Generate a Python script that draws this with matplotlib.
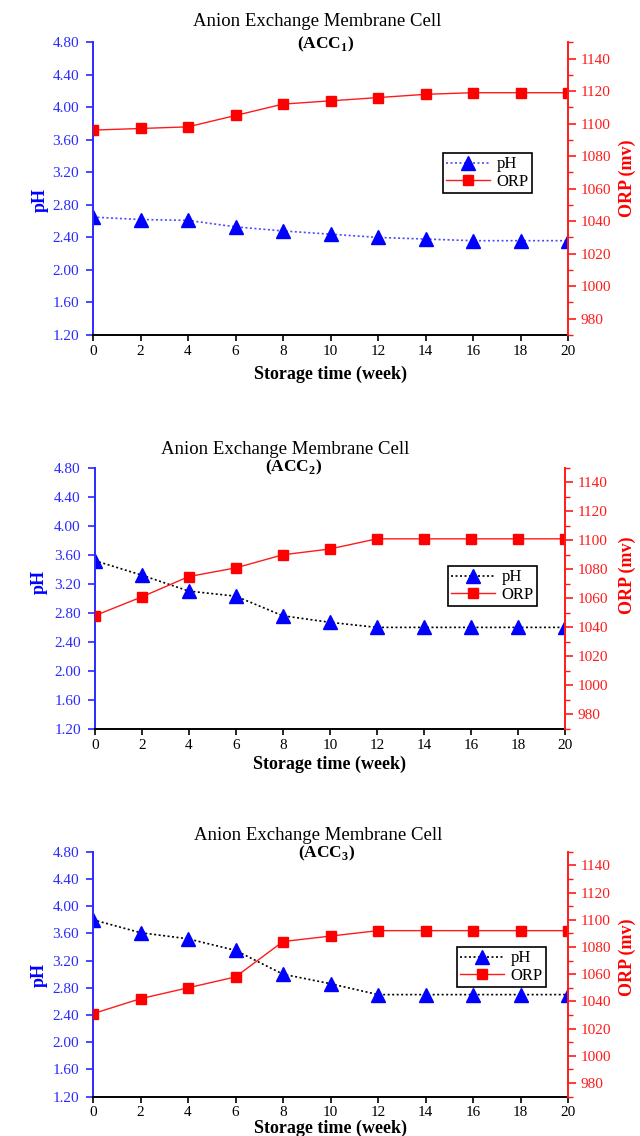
import matplotlib
matplotlib.use("Agg")
import matplotlib.pyplot as plt
from matplotlib.ticker import MultipleLocator, FormatStrFormatter

plt.rcParams['font.family'] = ['Liberation Serif', 'DejaVu Serif']
plt.rcParams['mathtext.fontset'] = 'custom'
plt.rcParams['mathtext.rm'] = 'Liberation Serif'
plt.rcParams['mathtext.bf'] = 'Liberation Serif:bold'

weeks = [0, 2, 4, 6, 8, 10, 12, 14, 16, 18, 20]

ph_acc1 = [2.65, 2.62, 2.61, 2.53, 2.48, 2.44, 2.40, 2.38, 2.36, 2.36, 2.36]
orp_acc1 = [1096, 1097, 1098, 1105, 1112, 1114, 1116, 1118, 1119, 1119, 1119]

ph_acc2 = [3.52, 3.32, 3.10, 3.03, 2.76, 2.67, 2.60, 2.60, 2.60, 2.60, 2.60]
orp_acc2 = [1048, 1061, 1075, 1081, 1090, 1094, 1101, 1101, 1101, 1101, 1101]

ph_acc3 = [3.80, 3.61, 3.52, 3.35, 3.00, 2.86, 2.70, 2.70, 2.70, 2.70, 2.70]
orp_acc3 = [1031, 1042, 1050, 1058, 1084, 1088, 1092, 1092, 1092, 1092, 1092]

title_text = "Anion Exchange Membrane Cell"
subtitles = [r"(ACC$_{\mathbf{1}}$)", r"(ACC$_{\mathbf{2}}$)", r"(ACC$_{\mathbf{3}}$)"]
xlabel_text = "Storage time (week)"
left_label = "pH"
right_label = "ORP (mv)"

W, H = 640, 1136
fig = plt.figure(figsize=(W / 100, H / 100), dpi=100)

BLUE = '#2a2aff'
RED = '#ff1a1a'

# pixel geometry: (left, right, top, bottom)
panels = [
    dict(box=(93, 568, 42.3, 335), ph=ph_acc1, orp=orp_acc1, phcolor='#4a4aff',
         title_xy=(317, 21), sub_xy=(326, 44), xlab_y=374, ylab=(40, 200), rlab=(627, 178),
         leg=(443, 153)),
    dict(box=(94.7, 565, 467.7, 729), ph=ph_acc2, orp=orp_acc2, phcolor='black',
         title_xy=(285, 449), sub_xy=(294, 467), xlab_y=764, ylab=(39, 582), rlab=(627, 575),
         leg=(448, 566)),
    dict(box=(93, 568, 851.7, 1096.7), ph=ph_acc3, orp=orp_acc3, phcolor='black',
         title_xy=(318, 835), sub_xy=(327, 853), xlab_y=1128, ylab=(39, 975), rlab=(627, 957),
         leg=(457, 947)),
]

for i, p in enumerate(panels):
    l, r, t, b = p['box']
    ax = fig.add_axes([l / W, 1 - b / H, (r - l) / W, (b - t) / H])
    ax2 = ax.twinx()

    lph, = ax.plot(weeks, p['ph'], linestyle=(0, (1.2, 1.5)), color=p['phcolor'], lw=1.2,
                   marker='^', ms=10, mfc='#0000ff', mec='#0000ff', label='pH')
    lorp, = ax2.plot(weeks, p['orp'], linestyle='-', color=RED, lw=1.0,
                     marker='s', ms=6.5, mfc='#ff0000', mec='#ff0000', label='ORP')

    ax.set_xlim(0, 20)
    ax.set_ylim(1.2, 4.8)
    ax2.set_ylim(970, 1150)
    ax.xaxis.set_major_locator(MultipleLocator(2))
    ax.yaxis.set_major_locator(MultipleLocator(0.4))
    ax.yaxis.set_major_formatter(FormatStrFormatter('%.2f'))
    ax2.yaxis.set_minor_locator(MultipleLocator(10))
    ax2.set_yticks(range(980, 1141, 20))

    for sp in ['top', 'right']:
        ax.spines[sp].set_visible(False)
    for sp in ['top', 'left', 'bottom']:
        ax2.spines[sp].set_visible(False)
    ax.spines['left'].set_color(BLUE)
    ax.spines['left'].set_linewidth(1.4)
    ax.spines['bottom'].set_color('black')
    ax.spines['bottom'].set_linewidth(1.4)
    ax2.spines['right'].set_color(RED)
    ax2.spines['right'].set_linewidth(1.4)

    ax.tick_params(axis='x', direction='out', length=4, width=1.2, pad=3,
                   labelsize=11, colors='black')
    ax.tick_params(axis='y', direction='out', length=5, width=1.2, pad=5,
                   labelsize=11, color=BLUE, labelcolor=BLUE)
    ax2.tick_params(axis='y', which='major', direction='out', length=6, width=1.2, pad=3,
                    labelsize=11, color=RED, labelcolor=RED)
    ax2.tick_params(axis='y', which='minor', direction='out', length=3.5, width=1.0, color=RED)

    leg_l, leg_t = p['leg']
    ax2.legend([lph, lorp], ['pH', 'ORP'], loc='upper left',
               bbox_to_anchor=((leg_l - l) / (r - l), (b - leg_t) / (b - t)),
               borderaxespad=0, fancybox=False, framealpha=1, edgecolor='black',
               fontsize=12, numpoints=1, handlelength=2.6, handletextpad=0.4,
               borderpad=0.2, labelspacing=0.1)
    ax2.get_legend().get_frame().set_linewidth(1.2)

    fig.text(p['title_xy'][0] / W, 1 - p['title_xy'][1] / H, title_text,
             ha='center', va='center', fontsize=13.5, color='black')
    fig.text(p['sub_xy'][0] / W, 1 - p['sub_xy'][1] / H, subtitles[i],
             ha='center', va='center', fontsize=12.5, fontweight='bold', color='black')
    fig.text(((l + r) / 2) / W, 1 - p['xlab_y'] / H, xlabel_text,
             ha='center', va='center', fontsize=13, fontweight='bold')
    fig.text(p['ylab'][0] / W, 1 - p['ylab'][1] / H, left_label, rotation=90,
             ha='center', va='center', fontsize=13, fontweight='bold', color='#0000ff')
    fig.text(p['rlab'][0] / W, 1 - p['rlab'][1] / H, right_label, rotation=90,
             ha='center', va='center', fontsize=13, fontweight='bold', color='#ff0000')

fig.savefig('out.png', dpi=100)
